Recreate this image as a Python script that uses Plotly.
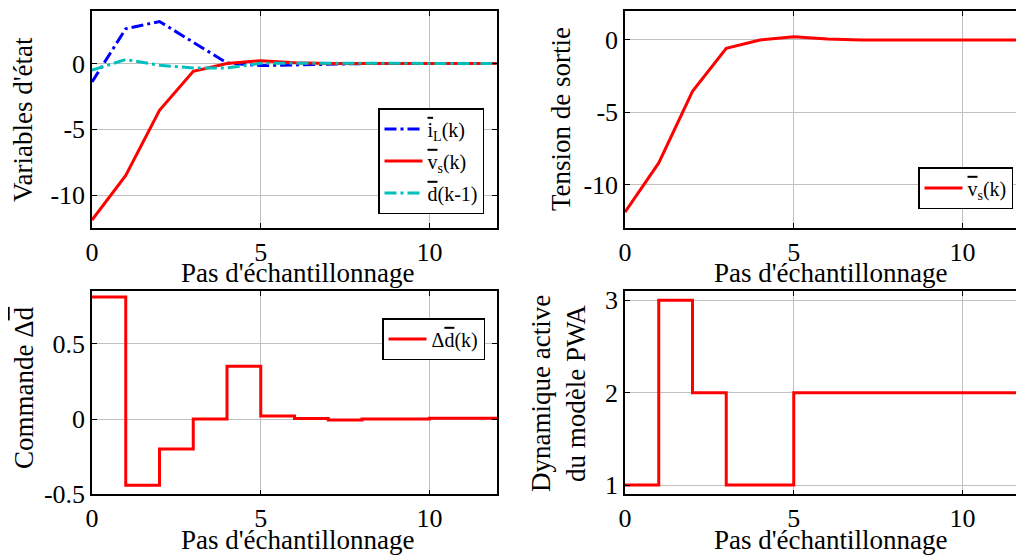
import plotly.graph_objects as go

# ---------------- data ----------------
k = list(range(13))
iL = [-1.4, 2.65, 3.2, 1.6, 0.05, -0.15, -0.1, -0.03, 0.0, 0.0, 0.0, 0.0, 0.0]
vs = [-11.9, -8.5, -3.55, -0.58, 0.0, 0.22, 0.06, 0.0, 0.0, 0.0, 0.0, 0.0, 0.0]
d_prev = [-0.5, 0.31, -0.13, -0.33, -0.33, 0.02, 0.03, 0.02, 0.01, 0.01, 0.01, 0.01, 0.01]
delta_d = [0.81, -0.44, -0.2, 0.0, 0.35, 0.02, 0.003, -0.007, 0.0, 0.0, 0.005, 0.005, 0.005]
mode = [1, 3, 2, 1, 1, 2, 2, 2, 2, 2, 2, 2, 2]

x_ticks = [0, 5, 10]
y1_ticks = [-10, -5, 0]
y2_ticks = [-10, -5, 0]
y3_ticks = [-0.5, 0, 0.5]
y4_ticks = [1, 2, 3]

# page has an 8px body margin: screen pixel s -> paper pixel s - 8
OFF = 8
W, H = 1024 - 2 * OFF, 556 - OFF
FONT = "Liberation Serif"
OV = "<span style='text-decoration:overline'>%s</span>"

def px_x(s):
    return (s - OFF) / W

def px_y(s):
    return 1 - (s - OFF) / H

fig = go.Figure()

DASHDOT = "12px,4px,3px,4px"
# top-left
fig.add_trace(go.Scatter(x=k, y=iL, mode="lines", name=OV % "i" + "<sub>L</sub>(k)",
                         legendgroup="a",
                         line=dict(color="#0000FF", width=3, dash=DASHDOT),
                         xaxis="x", yaxis="y", legend="legend"))
fig.add_trace(go.Scatter(x=k, y=vs, mode="lines", name=OV % "v" + "<sub>s</sub>(k)",
                         legendgroup="b",
                         line=dict(color="#FF0000", width=3),
                         xaxis="x", yaxis="y", legend="legend"))
fig.add_trace(go.Scatter(x=k, y=d_prev, mode="lines", name=OV % "d" + "(k-1)",
                         legendgroup="c",
                         line=dict(color="#00BFBF", width=3, dash=DASHDOT),
                         xaxis="x", yaxis="y", legend="legend"))
# top-right
fig.add_trace(go.Scatter(x=k, y=vs, mode="lines", name=OV % "v" + "<sub>s</sub>(k)",
                         line=dict(color="#FF0000", width=3),
                         xaxis="x2", yaxis="y2", legend="legend2"))
# bottom-left
fig.add_trace(go.Scatter(x=k, y=delta_d, mode="lines", line_shape="hv",
                         name="\u0394" + OV % "d" + "(k)",
                         line=dict(color="#FF0000", width=3),
                         xaxis="x3", yaxis="y3", legend="legend3"))
# bottom-right
fig.add_trace(go.Scatter(x=k, y=mode, mode="lines", line_shape="hv", showlegend=False,
                         line=dict(color="#FF0000", width=3),
                         xaxis="x4", yaxis="y4"))

axis_common = dict(showgrid=True, gridcolor="#c0c0c0", gridwidth=1, zeroline=False,
                   showline=True, linecolor="black", linewidth=1.5, automargin=False,
                   ticks="inside", ticklen=5, tickcolor="black", tickwidth=1,
                   tickfont=dict(family=FONT, size=26, color="black"))

def tt(vals):
    return ["%g" % v for v in vals]

L0, L1 = 92, 497
R0, R1 = 625, 1016
T0, T1 = 11, 228
B0, B1 = 291, 494.3
UNIT = (L1 - L0) / 12.0

fig.update_layout(
    width=W, height=H, margin=dict(l=0, r=0, t=0, b=0, autoexpand=False),
    paper_bgcolor="white", plot_bgcolor="white",
    font=dict(family=FONT, color="black"),
    xaxis=dict(domain=[px_x(L0), px_x(L1)], range=[0, 12], anchor="y", mirror="ticks",
               tickvals=x_ticks, ticktext=tt(x_ticks), **axis_common),
    yaxis=dict(domain=[px_y(T1), px_y(T0)], range=[-12.5, 4], anchor="x", mirror="ticks",
               tickvals=y1_ticks, ticktext=tt(y1_ticks), **axis_common),
    xaxis2=dict(domain=[px_x(R0), px_x(R1)], range=[0, (R1 - R0) / UNIT], anchor="y2",
                mirror="ticks", tickvals=x_ticks, ticktext=tt(x_ticks), **axis_common),
    yaxis2=dict(domain=[px_y(T1), px_y(T0)], range=[-13, 2], anchor="x2", mirror=False,
                tickvals=y2_ticks, ticktext=tt(y2_ticks), **axis_common),
    xaxis3=dict(domain=[px_x(L0), px_x(L1)], range=[0, 12], anchor="y3", mirror="ticks",
                tickvals=x_ticks, ticktext=tt(x_ticks), **axis_common),
    yaxis3=dict(domain=[px_y(B1), px_y(B0)], range=[-0.5, 0.85], anchor="x3", mirror="ticks",
                tickvals=y3_ticks, ticktext=tt(y3_ticks), **axis_common),
    xaxis4=dict(domain=[px_x(R0), px_x(R1)], range=[0, (R1 - R0) / UNIT], anchor="y4",
                mirror="ticks", tickvals=x_ticks, ticktext=tt(x_ticks), **axis_common),
    yaxis4=dict(domain=[px_y(B1), px_y(B0)], range=[0.9, 3.1], anchor="x4", mirror=False,
                tickvals=y4_ticks, ticktext=tt(y4_ticks), **axis_common),
)

leg_common = dict(bgcolor="white", bordercolor="black", borderwidth=1.5,
                  font=dict(family=FONT, size=20, color="black"),
                  xanchor="left", yanchor="top", itemwidth=38)
fig.update_layout(
    legend=dict(x=px_x(378), y=px_y(108), tracegroupgap=3, **leg_common),
    legend2=dict(x=px_x(918), y=px_y(167), **leg_common),
    legend3=dict(x=px_x(382), y=px_y(318), **leg_common),
)

def title(text, xc, yc, angle=0):
    fig.add_annotation(text=text, x=px_x(xc), y=px_y(yc), xref="paper", yref="paper",
                       xanchor="center", yanchor="middle", showarrow=False,
                       textangle=angle, font=dict(family=FONT, size=27, color="black"))

title("Pas d'échantillonnage", 298, 273)
title("Pas d'échantillonnage", 298 + 533, 273)
title("Pas d'échantillonnage", 298, 540)
title("Pas d'échantillonnage", 298 + 533, 540)
title("Variables d'état", 23, 120, -90)
title("Tension de sortie", 561, 119, -90)
title("Commande \u0394" + OV % "d", 24, 388, -90)
title("Dynamique active<br>du modèle PWA", 558, 394, -90)

fig.write_html("out.html")
